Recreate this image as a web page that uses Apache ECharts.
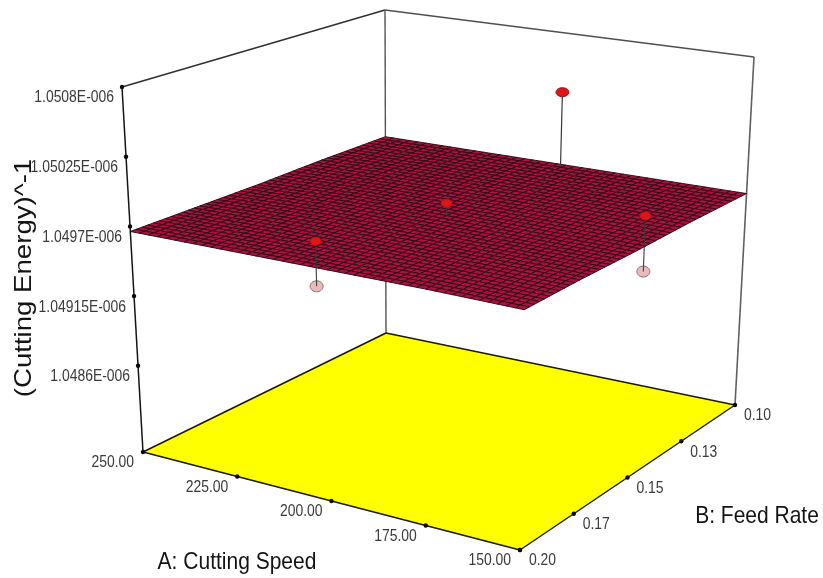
<!DOCTYPE html>
<html>
<head>
<meta charset="utf-8">
<style>html,body{margin:0;padding:0;background:#fff}#c{width:823px;height:578px}</style>
<script src="https://cdn.jsdelivr.net/npm/echarts@6/dist/echarts.min.js"></script>
</head>
<body>
<div id="c"></div>
<script>
// ---------- chart values ----------
const speedTicks = [250, 225, 200, 175, 150];
const speedLabels = ['250.00', '225.00', '200.00', '175.00', '150.00'];
const feedTicks = [0.10, 0.125, 0.15, 0.175, 0.20];
const feedLabels = ['0.10', '0.13', '0.15', '0.17', '0.20'];
const energyTicks = [1.0508e-6, 1.05025e-6, 1.0497e-6, 1.04915e-6, 1.0486e-6];
const energyLabels = ['1.0508E-006', '1.05025E-006', '1.0497E-006', '1.04915E-006', '1.0486E-006'];
const energyFloor = 1.04792e-6;
// surface nodes: rows follow feedTicks, columns follow speedTicks
const surfaceEnergy = [
  [1.04967e-6, 1.04967e-6, 1.04967e-6, 1.04967e-6, 1.04967e-6],
  [1.04967e-6, 1.04968e-6, 1.04968e-6, 1.04968e-6, 1.04967e-6],
  [1.04966e-6, 1.04968e-6, 1.04968e-6, 1.04967e-6, 1.04966e-6],
  [1.04966e-6, 1.04967e-6, 1.04967e-6, 1.04967e-6, 1.04966e-6],
  [1.04966e-6, 1.04966e-6, 1.04966e-6, 1.04966e-6, 1.04965e-6]
];
const aboveSpeed = [201.5, 200, 150, 202.8];
const aboveFeed = [0.10, 0.15, 0.146, 0.20];
const aboveEnergy = [1.05029e-6, 1.04978e-6, 1.04990e-6, 1.04986e-6];
const belowSpeed = [150, 202.8];
const belowFeed = [0.146, 0.20];
const belowEnergy = [1.04947e-6, 1.04952e-6];
const meshDivisions = 44;

// ---------- view of the box ----------
const floorView = { back: [386, 333], right: [735, 405], left: [143, 452], near: [520, 550] };
const roofView = { back: [385, 10], right: [754, 57], left: [122, 87], near: [527, 150] };
const speedMax = speedTicks[0], speedMin = speedTicks[4];
const feedMin = feedTicks[0], feedMax = feedTicks[4];
const energyTop = energyTicks[0];

function mix(p, q, t) { return [p[0] + (q[0] - p[0]) * t, p[1] + (q[1] - p[1]) * t]; }
function project(a, b, z) {
  const u = (speedMax - a) / (speedMax - speedMin);
  const v = (b - feedMin) / (feedMax - feedMin);
  const w = (z - energyFloor) / (energyTop - energyFloor);
  const sheet = s => mix(mix(s.back, s.right, u), mix(s.left, s.near, u), v);
  return mix(sheet(floorView), sheet(roofView), w);
}
function surfaceAt(u, v) { // u,v in 0..1
  const n = surfaceEnergy.length - 1;
  const r = Math.min(Math.floor(v * n), n - 1), c = Math.min(Math.floor(u * n), n - 1);
  const fr = v * n - r, fc = u * n - c;
  const t = surfaceEnergy;
  return (t[r][c] * (1 - fc) + t[r][c + 1] * fc) * (1 - fr) + (t[r + 1][c] * (1 - fc) + t[r + 1][c + 1] * fc) * fr;
}
function surfaceEnergyAt(a, b) {
  return surfaceAt((speedMax - a) / (speedMax - speedMin), (b - feedMin) / (feedMax - feedMin));
}
function meshPoint(i, j) {
  const u = i / meshDivisions, v = j / meshDivisions;
  return project(speedMax - u * (speedMax - speedMin), feedMin + v * (feedMax - feedMin), surfaceAt(u, v));
}

// ---------- series helpers ----------
function layer(z, data, render) {
  return { type: 'custom', coordinateSystem: 'cartesian2d', z, data, renderItem: render,
           silent: true, clip: false, animation: false, progressive: 0 };
}
function lineEl(api, p, q, stroke, width) {
  const s = api.coord(p), e = api.coord(q);
  return { type: 'line', shape: { x1: s[0], y1: s[1], x2: e[0], y2: e[1] }, style: { stroke, lineWidth: width, fill: null } };
}
function textEl(api, pos, text, o) {
  const c = api.coord(pos);
  return { type: 'text', x: c[0], y: c[1], rotation: o.rotation || 0, scaleX: o.scaleX || 1, scaleY: 1,
    style: { text, font: o.font, fill: o.fill, align: o.align, verticalAlign: 'middle' } };
}

// ---------- box frame ----------
const E0 = energyFloor, E1 = energyTop;
const frameEdges = [
  [[speedMax, feedMax, E0], [speedMax, feedMax, E1], '#151515', 1.5],
  [[speedMax, feedMax, E1], [speedMax, feedMin, E1], '#303030', 1.5],
  [[speedMax, feedMin, E1], [speedMin, feedMin, E1], '#505050', 1.6],
  [[speedMax, feedMin, E1], [speedMax, feedMin, E0], '#555555', 1.4],
  [[speedMin, feedMin, E1], [speedMin, feedMin, E0], '#606060', 1.6]
];
const floorEdges = [
  [[speedMax, feedMax, E0], [speedMax, feedMin, E0]],
  [[speedMax, feedMin, E0], [speedMin, feedMin, E0]],
  [[speedMin, feedMin, E0], [speedMin, feedMax, E0]],
  [[speedMin, feedMax, E0], [speedMax, feedMax, E0]]
];
const tickPoints = []
  .concat(energyTicks.map(z => [speedMax, feedMax, z]))
  .concat(speedTicks.map(a => [a, feedMax, E0]))
  .concat(feedTicks.map(b => [speedMin, b, E0]));

const tickTexts = []
  .concat(energyLabels.map((t, i) => ({ t, p: [speedMax, feedMax, energyTicks[i]], dx: -8, dy: 11, align: 'right' })))
  .concat(speedLabels.map((t, i) => ({ t, p: [speedTicks[i], feedMax, E0], dx: -9, dy: 11, align: 'right' })))
  .concat(feedLabels.map((t, i) => ({ t, p: [speedMin, feedTicks[i], E0], dx: 9, dy: 11, align: 'left' })));

const titles = [
  { t: 'A: Cutting Speed', p: [237, 562], rotation: 0, scaleX: 0.875 },
  { t: 'B: Feed Rate', p: [757, 516], rotation: 0, scaleX: 0.875 },
  { t: '(Cutting Energy)^-1', p: [24, 278], rotation: Math.PI / 2, scaleX: 1.15 }
];

const cells = [];
for (let j = 0; j < meshDivisions; j++) for (let i = 0; i < meshDivisions; i++) cells.push([i, j]);

const belowIdx = belowSpeed.map((_, i) => i);
const aboveIdx = aboveSpeed.map((_, i) => i);

const option = {
  backgroundColor: '#ffffff',
  animation: false,
  tooltip: { show: false },
  grid: { left: 0, right: 0, top: 0, bottom: 0 },
  xAxis: { type: 'value', min: 0, max: 823, show: false },
  yAxis: { type: 'value', min: 0, max: 578, inverse: true, show: false },
  series: [
    layer(1, frameEdges, (p, api) => {
      const e = frameEdges[p.dataIndex];
      return lineEl(api, project(...e[0]), project(...e[1]), e[2], e[3]);
    }),
    layer(2, [0], (p, api) => ({
      type: 'polygon',
      shape: { points: [[speedMax, feedMin], [speedMin, feedMin], [speedMin, feedMax], [speedMax, feedMax]]
        .map(c => api.coord(project(c[0], c[1], E0))) },
      style: { fill: '#ffff00' }
    })),
    layer(3, floorEdges, (p, api) => {
      const e = floorEdges[p.dataIndex];
      return lineEl(api, project(...e[0]), project(...e[1]), '#1a1a00', 1.5);
    }),
    layer(4, tickPoints, (p, api) => {
      const c = api.coord(project(...tickPoints[p.dataIndex]));
      return { type: 'circle', shape: { cx: c[0], cy: c[1], r: 2.2 }, style: { fill: '#0a0a0a' } };
    }),
    layer(5, tickTexts, (p, api) => {
      const d = tickTexts[p.dataIndex], c = project(...d.p);
      return textEl(api, [c[0] + d.dx, c[1] + d.dy], d.t,
        { font: '16px "Liberation Sans", Arial, sans-serif', fill: '#3a3a3a', align: d.align, scaleX: 0.87 });
    }),
    layer(5, titles, (p, api) => {
      const d = titles[p.dataIndex];
      return textEl(api, d.p, d.t, { font: '24px "Liberation Sans", Arial, sans-serif', fill: '#141414',
        align: 'center', scaleX: d.scaleX, rotation: d.rotation });
    }),
    layer(6, belowIdx, (p, api) => {
      const i = p.dataIndex, c = api.coord(project(belowSpeed[i], belowFeed[i], belowEnergy[i]));
      return { type: 'ellipse', shape: { cx: c[0], cy: c[1], rx: 6.5, ry: 5.5 }, style: { fill: '#eab9b9', stroke: '#8c6f6f', lineWidth: 1 } };
    }),
    layer(7, belowIdx, (p, api) => {
      const i = p.dataIndex;
      return lineEl(api, project(belowSpeed[i], belowFeed[i], belowEnergy[i]),
        project(belowSpeed[i], belowFeed[i], surfaceEnergyAt(belowSpeed[i], belowFeed[i])), '#4a4a4a', 1.2);
    }),
    layer(8, cells, (p, api) => {
      const [i, j] = cells[p.dataIndex];
      return { type: 'polygon',
        shape: { points: [meshPoint(i, j), meshPoint(i + 1, j), meshPoint(i + 1, j + 1), meshPoint(i, j + 1)].map(q => api.coord(q)) },
        style: { fill: '#a8123c', stroke: '#320818', lineWidth: 0.95 } };
    }),
    layer(9, aboveIdx, (p, api) => {
      const i = p.dataIndex;
      return lineEl(api, project(aboveSpeed[i], aboveFeed[i], aboveEnergy[i]),
        project(aboveSpeed[i], aboveFeed[i], surfaceEnergyAt(aboveSpeed[i], aboveFeed[i])), '#3a3a3a', 1.2);
    }),
    layer(10, aboveIdx, (p, api) => {
      const i = p.dataIndex, c = api.coord(project(aboveSpeed[i], aboveFeed[i], aboveEnergy[i]));
      const big = i === 0;
      return { type: 'ellipse', shape: { cx: c[0], cy: c[1], rx: big ? 6.5 : 5.5, ry: big ? 4.5 : 4 },
        style: { fill: '#e01414', stroke: big ? '#7a0c0c' : '#c01010', lineWidth: 0.8 } };
    })
  ]
};
const chart = echarts.init(document.getElementById('c'), null, { renderer: 'canvas' });
chart.setOption(option);
</script>
</body>
</html>
